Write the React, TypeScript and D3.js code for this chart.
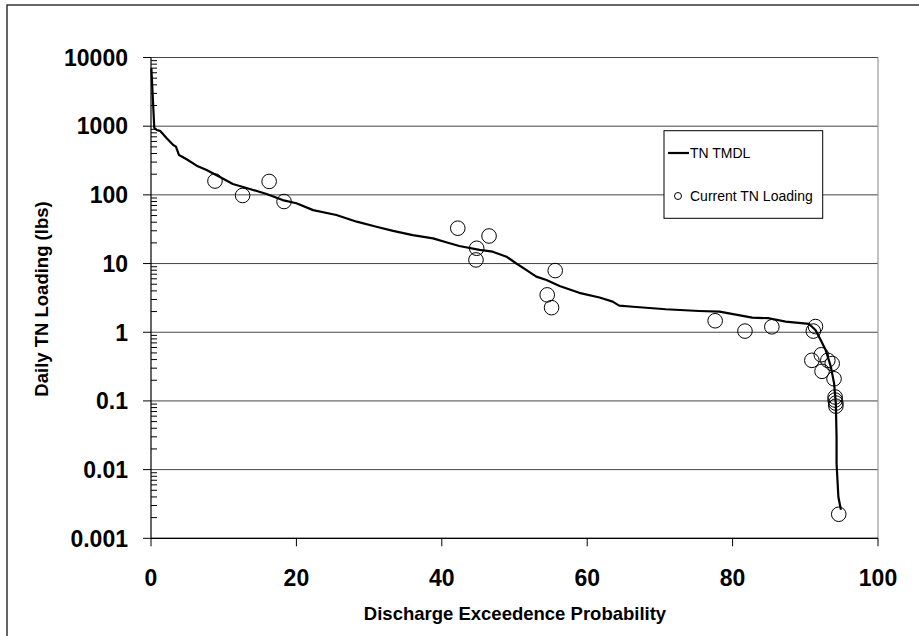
import React from "react";
import * as d3 from "d3";

const curveProb = [0.05, 0.45, 0.78, 1.24, 2.16, 3.06, 3.43, 3.85, 4.9, 6.28, 7.65, 9.48, 11.26, 13.6, 15.9, 18.1, 20.0, 22.3, 25.5, 28.3, 31.0, 33.3, 36.0, 38.8, 40.6, 42.4, 45.2, 47.0, 48.9, 50.2, 51.6, 53.0, 54.4, 56.2, 58.9, 61.7, 63.5, 64.4, 66.3, 70.8, 75.4, 78.2, 82.7, 85.0, 87.3, 90.5, 91.4, 92.1, 92.8, 93.5, 93.96, 94.2, 94.3, 94.3, 94.55, 94.9];
const curveLoad = [7000, 950, 881, 855, 667, 532, 503, 380, 330, 266, 230, 182, 144, 122, 103, 84, 75.5, 60, 51, 40.7, 34.4, 29.9, 26, 23.3, 20.4, 18, 15.8, 14.9, 12.6, 10.1, 8.07, 6.45, 5.75, 4.7, 3.75, 3.2, 2.79, 2.44, 2.35, 2.16, 2.04, 2.0, 1.63, 1.6, 1.43, 1.32, 1.08, 0.78, 0.55, 0.32, 0.18, 0.092, 0.03, 0.0123, 0.004, 0.0026];

const obsProb = [8.8, 12.6, 16.25, 18.3, 42.2, 46.5, 44.8, 44.7, 55.6, 54.5, 55.1, 77.6, 81.7, 85.4, 91.4, 91.1, 90.9, 92.2, 93.1, 93.7, 92.3, 93.95, 94.1, 94.1, 94.2, 94.2, 94.6];
const obsLoad = [159, 98, 157, 80, 32.7, 25.2, 16.7, 11.3, 7.9, 3.5, 2.28, 1.47, 1.04, 1.2, 1.21, 1.04, 0.39, 0.47, 0.39, 0.35, 0.27, 0.21, 0.114, 0.103, 0.093, 0.084, 0.00224];

const xTicks = [0, 20, 40, 60, 80, 100];
const yTicks = [0.001, 0.01, 0.1, 1, 10, 100, 1000, 10000];
const yTickLabels = ["0.001", "0.01", "0.1", "1", "10", "100", "1000", "10000"];

const seriesNames = ["TN TMDL", "Current TN Loading"];
const xTitle = "Discharge Exceedence Probability";
const yTitle = "Daily TN Loading (lbs)";

export default function App() {
  const x = d3.scaleLinear().domain([0, 100]).range([151, 878]);
  const y = d3.scaleLog().domain([0.001, 10000]).range([538.3, 57.5]);
  const line = d3
    .line<number>()
    .x((_, i) => x(curveProb[i]))
    .y((_, i) => y(curveLoad[i]));
  const minor: number[] = [];
  for (let e = -3; e < 4; e++) {
    for (let k = 2; k <= 9; k++) minor.push(k * Math.pow(10, e));
  }
  const font = "'Liberation Sans', Arial, sans-serif";
  const [x0, x1] = x.range();
  const [yb, yt] = y.range();
  return (
    <div>
      <style>{"body{margin:0}"}</style>
      <svg width={919} height={636} style={{ display: "block", background: "#fff" }} fontFamily={font}>
        <rect x={7} y={5} width={1000} height={1000} fill="none" stroke="#333" strokeWidth={1.5} />
        {yTicks.map((t) => (
          <line key={"g" + t} x1={x0} x2={x1} y1={y(t)} y2={y(t)} stroke="#444" strokeWidth={1} />
        ))}
        <line x1={x1} x2={x1} y1={yt} y2={yb} stroke="#999" strokeWidth={1.2} />
        <line x1={x0} x2={x0} y1={yt} y2={yb} stroke="#000" strokeWidth={1.2} />
        <line x1={x0} x2={x1} y1={yb} y2={yb} stroke="#000" strokeWidth={1.2} />
        {yTicks.map((t) => (
          <line key={"mt" + t} x1={x0 - 8} x2={x0} y1={y(t)} y2={y(t)} stroke="#000" strokeWidth={1} />
        ))}
        {minor.map((t, i) => (
          <line key={"mn" + i} x1={x0} x2={x0 + 6} y1={y(t)} y2={y(t)} stroke="#000" strokeWidth={1} />
        ))}
        {xTicks.map((t) => (
          <line key={"xt" + t} x1={x(t)} x2={x(t)} y1={yb} y2={yb + 8} stroke="#000" strokeWidth={1} />
        ))}
        {yTicks.map((t, i) => (
          <text key={"yl" + t} x={128} y={y(t)} dy="0.36em" textAnchor="end" fontSize={23} fontWeight="bold">
            {yTickLabels[i]}
          </text>
        ))}
        {xTicks.map((t) => (
          <text key={"xl" + t} x={x(t)} y={578} dy="0.36em" textAnchor="middle" fontSize={23} fontWeight="bold">
            {t}
          </text>
        ))}
        <text x={515} y={613} dy="0.36em" textAnchor="middle" fontSize={18.5} fontWeight="bold">
          {xTitle}
        </text>
        <text transform="translate(41,299) rotate(-90)" dy="0.36em" textAnchor="middle" fontSize={18.5} fontWeight="bold">
          {yTitle}
        </text>
        <path d={line(curveProb) || ""} fill="none" stroke="#000" strokeWidth={2.2} strokeLinejoin="round" />
        {obsProb.map((p, i) => (
          <circle key={"c" + i} cx={x(p)} cy={y(obsLoad[i])} r={7.3} fill="none" stroke="#000" strokeWidth={1} />
        ))}
        <rect x={664} y={130.7} width={158.7} height={87.6} fill="#fff" stroke="#000" strokeWidth={1} />
        <line x1={668} x2={689} y1={153} y2={153} stroke="#000" strokeWidth={2.2} />
        <text x={690} y={153} dy="0.36em" fontSize={14}>{seriesNames[0]}</text>
        <circle cx={678} cy={196} r={3.5} fill="none" stroke="#000" strokeWidth={1} />
        <text x={690} y={196} dy="0.36em" fontSize={14}>{seriesNames[1]}</text>
      </svg>
    </div>
  );
}
